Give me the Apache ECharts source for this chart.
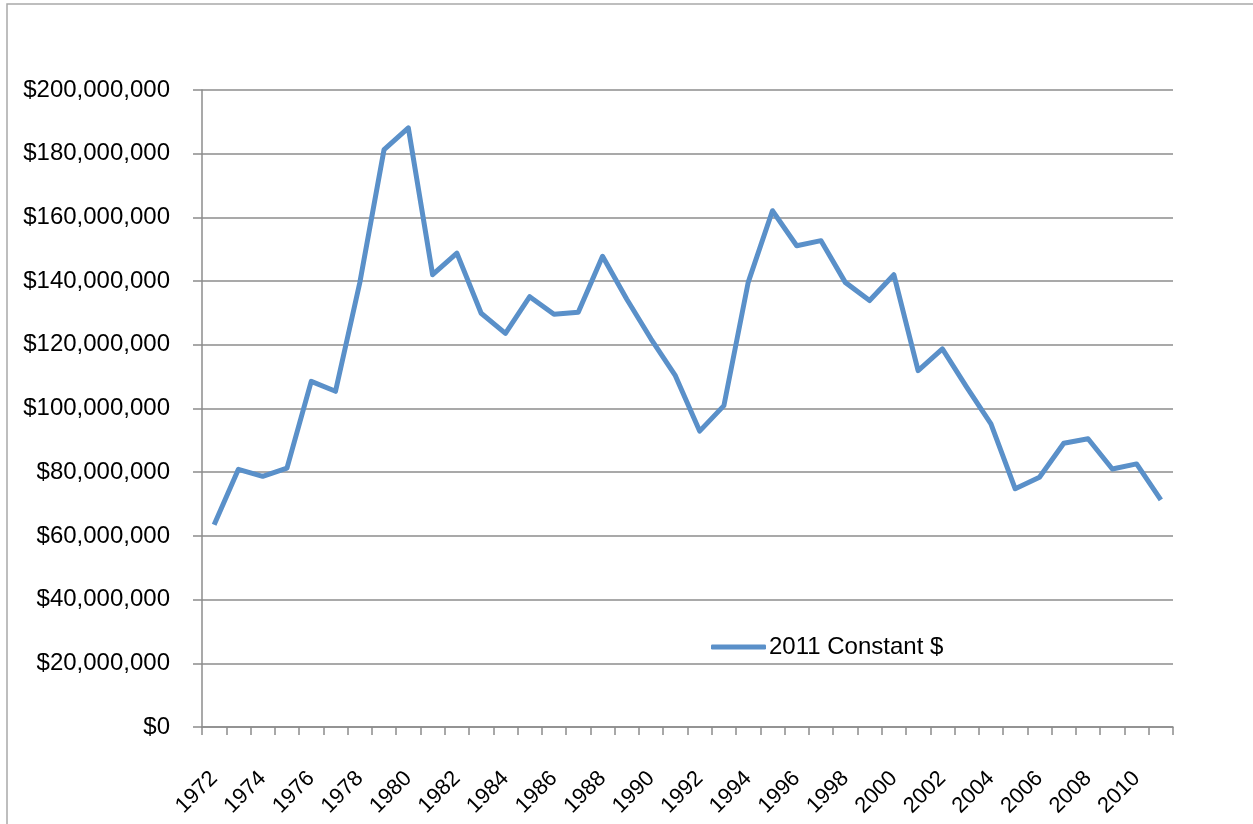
<!DOCTYPE html>
<html lang="en">
<head>
    <meta charset="UTF-8">
    <title>2011 Constant $</title>
    <style>
        html,body{margin:0;padding:0;background:#fff;}
        #box{width:1253px;height:824px;}
    </style>
</head>
<body>
<div id="box"></div>
<script src="https://cdn.jsdelivr.net/npm/echarts@6/dist/echarts.min.js" type="text/javascript"></script>
<script type="text/javascript">
    let years=['1972','1973','1974','1975','1976','1977','1978','1979','1980','1981',
        '1982','1983','1984','1985','1986','1987','1988','1989','1990','1991',
        '1992','1993','1994','1995','1996','1997','1998','1999','2000','2001',
        '2002','2003','2004','2005','2006','2007','2008','2009','2010','2011'];
    let constant2011=[63500000,80900000,78700000,81300000,108500000,105400000,139500000,181300000,188100000,142000000,
        148800000,129900000,123600000,135100000,129600000,130200000,147800000,134300000,121800000,110300000,
        92900000,100900000,139600000,162100000,151100000,152700000,139600000,133900000,142000000,111900000,
        118700000,106700000,95200000,74800000,78400000,89100000,90500000,81000000,82600000,71300000];
    let yTicks=[0,20000000,40000000,60000000,80000000,100000000,120000000,140000000,160000000,180000000,200000000];

    window.onload=function () {
        let chart=echarts.init(document.getElementById('box'));
        let gray='#8c8c8c';
        let font='Liberation Sans';
        let option={
            backgroundColor:'#fff',
            animation:false,
            graphic:[
                {
                    type:'rect',
                    shape:{x:7,y:4,width:1320,height:900},
                    style:{fill:'none',stroke:'#a9a9a9',lineWidth:1.5}
                }
            ],
            grid:{left:202,right:80,top:90,bottom:97},
            legend:{
                left:706,
                top:630,
                icon:'roundRect',
                itemWidth:55,
                itemHeight:5,
                itemGap:10,
                textStyle:{fontFamily:font,fontSize:24,color:'#000',padding:[0,0,0,-2]},
                data:['2011 Constant $']
            },
            xAxis:{
                type:'category',
                data:years,
                boundaryGap:true,
                axisLine:{lineStyle:{color:gray,width:1.5}},
                axisTick:{show:true,interval:0,length:8,lineStyle:{color:gray,width:1.5}},
                axisLabel:{
                    interval:1,
                    rotate:45,
                    margin:48,
                    fontFamily:font,
                    fontSize:22,
                    color:'#000'
                },
                splitLine:{show:false}
            },
            yAxis:{
                type:'value',
                min:yTicks[0],
                max:yTicks[yTicks.length-1],
                interval:20000000,
                axisLine:{show:true,lineStyle:{color:gray,width:1.5}},
                axisTick:{show:true,length:9,lineStyle:{color:gray,width:1.5}},
                axisLabel:{
                    margin:32,
                    fontFamily:font,
                    fontSize:24,
                    color:'#000',
                    formatter:function (v) {
                        return '$'+v.toLocaleString('en-US');
                    }
                },
                splitLine:{show:true,lineStyle:{color:gray,width:1.5}}
            },
            series:[
                {
                    name:'2011 Constant $',
                    type:'line',
                    data:constant2011,
                    symbol:'none',
                    color:'#5a90c9',
                    lineStyle:{color:'#5a90c9',width:5,join:'round'}
                }
            ]
        };
        chart.setOption(option);
    }
</script>
</body>
</html>
